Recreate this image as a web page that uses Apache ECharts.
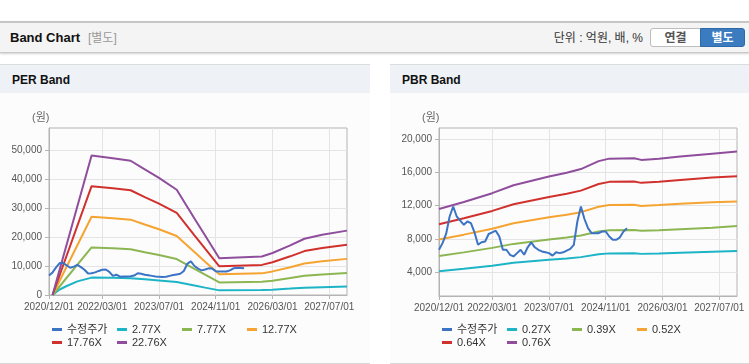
<!DOCTYPE html>
<html><head><meta charset="utf-8">
<script src="https://cdn.jsdelivr.net/npm/echarts@6/dist/echarts.min.js"></script>
<style>
html,body{margin:0;padding:0;width:749px;height:364px;overflow:hidden;background:#fff;font-family:"Liberation Sans",Arial,"Noto Sans CJK KR",sans-serif;}
#hdr{position:absolute;left:0;top:21px;width:749px;height:29px;background:#f4f4f4;border-top:2px solid #c6c6c6;border-bottom:1px solid #c8c8c8;box-shadow:0 1px 2px rgba(0,0,0,0.18);}
#hdr .t{position:absolute;left:10px;top:6px;font-size:13px;font-weight:bold;color:#111;line-height:17px;}
#hdr .s{position:absolute;left:88px;top:7px;font-size:12px;color:#999;line-height:16px;}
#hdr .u{position:absolute;right:106px;top:7px;font-size:12px;color:#333;line-height:16px;}
.btn{position:absolute;top:5px;height:19px;line-height:19px;font-size:12px;font-weight:bold;text-align:center;box-sizing:border-box;}
#b1{left:650px;width:51px;background:#fff;border:1px solid #bdbdbd;border-radius:3px 0 0 3px;color:#555;}
#b2{left:700px;width:45px;background:#3b7bbf;border:1px solid #2f6aa8;border-radius:0 3px 3px 0;color:#fff;}
.panel{position:absolute;top:64px;height:298px;border-top:1px solid #dcdcdc;border-bottom:1px solid #d8d8d8;background:#fcfcfd;}
.ph{position:absolute;left:0;top:0;right:0;height:28px;background:#eef2f7;}
.ph span{position:absolute;left:12px;top:7px;font-size:12px;font-weight:bold;color:#111;line-height:16px;}
.chart{position:absolute;top:93px;height:270px;}
</style></head>
<body>
<div id="hdr"><span class="t">Band Chart</span><span class="s">[별도]</span><span class="u">단위 : 억원, 배, %</span><div class="btn" id="b1">연결</div><div class="btn" id="b2">별도</div></div>
<div class="panel" style="left:0;width:370px;"><div class="ph"><span>PER Band</span></div></div>
<div class="panel" style="left:390px;width:359px;"><div class="ph"><span>PBR Band</span></div></div>
<div id="c1" class="chart" style="left:0;width:370px;"></div>
<div id="c2" class="chart" style="left:390px;width:359px;"></div>
<script>
const categories = [
'2020/12/01',
'2021/01/01','2021/02/01','2021/03/01','2021/04/01','2021/05/01','2021/06/01','2021/07/01','2021/08/01','2021/09/01','2021/10/01','2021/11/01','2021/12/01',
'2022/01/01','2022/02/01','2022/03/01','2022/04/01','2022/05/01','2022/06/01','2022/07/01','2022/08/01','2022/09/01','2022/10/01','2022/11/01','2022/12/01',
'2023/01/01','2023/02/01','2023/03/01','2023/04/01','2023/05/01','2023/06/01','2023/07/01','2023/08/01','2023/09/01','2023/10/01','2023/11/01','2023/12/01',
'2024/01/01','2024/02/01','2024/03/01','2024/04/01','2024/05/01','2024/06/01','2024/07/01','2024/08/01','2024/09/01','2024/10/01','2024/11/01','2024/12/01',
'2025/01/01','2025/02/01','2025/03/01','2025/04/01','2025/05/01','2025/06/01','2025/07/01','2025/08/01','2025/09/01','2025/10/01','2025/11/01','2025/12/01',
'2026/01/01','2026/02/01','2026/03/01','2026/04/01','2026/05/01','2026/06/01','2026/07/01','2026/08/01','2026/09/01','2026/10/01','2026/11/01','2026/12/01',
'2027/01/01','2027/02/01','2027/03/01','2027/04/01','2027/05/01','2027/06/01','2027/07/01','2027/08/01','2027/09/01','2027/10/01','2027/11/01','2027/12/01'];
const tickLabels = ['2020/12/01','2022/03/01','2023/07/01','2024/11/01','2026/03/01','2027/07/01'];

// PER chart
const perPrice = [6700,7800,9500,11000,11000,10200,9400,9800,10400,9600,8700,7400,7500,7800,8300,8700,8800,8000,6600,7000,
  6300,6400,6400,6500,6700,7500,7300,7000,6800,6600,6400,6300,6200,6300,6600,6900,7100,7300,8300,10800,
  11600,10000,9100,8500,8800,9200,9100,8200,8100,8100,8100,8500,9200,9300,9300,9200];
const perBandDates = ['2021/01/01','2021/12/01','2022/06/01','2022/11/01','2023/03/01','2023/07/01','2023/12/01','2024/05/01','2024/08/01','2024/12/01','2025/12/01','2026/03/01','2026/08/01','2026/12/01','2027/05/01','2027/12/01'];
const per277Dates = ['2021/01/01','2021/03/01','2021/05/01','2021/08/01','2021/12/01','2022/06/01','2022/11/01','2023/03/01','2023/07/01','2023/12/01','2024/05/01','2024/08/01','2024/12/01','2025/12/01','2026/03/01','2026/08/01','2026/12/01','2027/05/01','2027/12/01'];
const per277 = [0,1900,3100,4700,6000,5950,5800,5400,5000,4500,3300,2550,1600,1700,1850,2200,2500,2700,2950];
const per777 = [0,16420,16110,15810,14780,13790,12390,9010,7000,4340,4540,4950,5840,6620,7100,7580];
const per1277 = [0,26990,26480,25980,24300,22670,20370,14810,11500,7130,7460,8140,9590,10890,11670,12460];
const per1776 = [0,37530,36830,36130,33790,31520,28320,20600,16000,9910,10380,11310,13340,15140,16230,17320];
const per2276 = [0,48100,47200,46300,43300,40400,36300,26400,20500,12700,13300,14500,17100,19400,20800,22200];
const perNames = ['수정주가','2.77X','7.77X','12.77X','17.76X','22.76X'];
const perTicks = [0,10000,20000,30000,40000,50000];

// PBR chart
const pbrPrice = [6700,7500,8600,10700,11900,10700,10200,9700,10100,9900,8800,7300,7600,7700,8600,8800,9000,8300,6700,6700,
  6100,5900,6300,6700,6100,7000,7600,7000,6700,6500,6400,6300,6000,6400,6300,6400,6600,6800,7300,10100,
  11900,10400,9300,8700,8700,8700,8900,8900,8300,7900,7900,8200,8900,9300];
const pbrBandDates = ['2020/12/01','2021/07/01','2022/03/01','2022/09/01','2023/07/01','2023/12/01','2024/04/01','2024/09/01','2024/12/01','2025/07/01','2025/09/01','2026/02/01','2026/08/01','2027/05/01','2027/12/01'];
const pbr027 = [4120,4420,4790,5130,5500,5660,5820,6160,6270,6280,6210,6270,6350,6480,6570];
const pbr039 = [5950,6390,6930,7410,7950,8180,8410,8900,9050,9080,8980,9050,9180,9360,9550];
const pbr052 = [7930,8520,9230,9880,10600,10910,11220,11870,12070,12110,11970,12070,12240,12400,12500];
const pbr064 = [9770,10480,11370,12170,13050,13430,13810,14610,14860,14900,14740,14860,15070,15370,15520];
const pbr076 = [11600,12450,13500,14450,15500,15950,16400,17350,17650,17700,17500,17650,17900,18250,18500];
const pbrNames = ['수정주가','0.27X','0.39X','0.52X','0.64X','0.76X'];
const pbrTicks = [4000,8000,12000,16000,20000];

const colors = ['#3b73c5','#1db4c6','#8cb652','#f5a431','#d0312d','#8f4e9c'];
const FONT = '"Liberation Sans", Arial, "Noto Sans CJK KR", sans-serif';

function pairs(dates, vals){ return dates.map((d,i)=>[d, vals[i]]); }
function fmt(v){ return String(v).replace(/\B(?=(\d{3})+(?!\d))/g, ','); }
const showIdx = tickLabels.map(t => categories.indexOf(t));
const showFn = (i) => showIdx.indexOf(i) >= 0;

function build(names, priceArr, bandSets, yMin, yMax, yTicks, gridH){
  const series = [];
  series.push({name:names[0], type:'line', data:priceArr, showSymbol:false, symbol:'none', z:5,
    lineStyle:{width:2,color:colors[0]}, itemStyle:{color:colors[0]}});
  bandSets.forEach((b,k)=>{
    series.push({name:names[k+1], type:'line', data:pairs(b[0], b[1]), showSymbol:false, symbol:'none', connectNulls:true, z:2,
      lineStyle:{width:2,color:colors[k+1]}, itemStyle:{color:colors[k+1]}});
  });
  const legendPos = [[52,231],[117,231],[182,231],[247,231],[52,244],[117,244]];
  const legends = names.map((n,i)=>({
    data:[n], left:legendPos[i][0], top:legendPos[i][1], padding:0, itemGap:0,
    icon:'rect', itemWidth:10, itemHeight:3, selectedMode:false,
    textStyle:{fontSize:11, color:'#333', fontFamily:FONT}
  }));
  return {
    animation:false,
    color:colors,
    textStyle:{fontFamily:FONT},
    grid:{left:49, top:35, width:298, height:gridH, show:true, borderColor:'#b4b4b4', borderWidth:1, backgroundColor:'transparent', outerBoundsMode:'none'},
    legend:legends,
    graphic:[{type:'text', left:32, top:19, style:{text:'(원)', fontSize:11, fill:'#666', fontFamily:FONT}}],
    xAxis:{type:'category', data:categories, boundaryGap:false,
      axisLine:{show:true, lineStyle:{color:'#b4b4b4'}},
      axisTick:{show:true, interval:showFn, length:4, lineStyle:{color:'#b4b4b4'}},
      axisLabel:{interval:showFn, color:'#555', fontSize:10, margin:7, fontFamily:FONT, hideOverlap:false},
      splitLine:{show:true, interval:showFn, lineStyle:{color:'#e4e4e4'}}},
    yAxis:{type:'value', min:yMin, max:yMax, 
      axisLine:{show:true, lineStyle:{color:'#b4b4b4'}},
      axisTick:{show:true, length:4, customValues:yTicks, lineStyle:{color:'#b4b4b4'}},
      axisLabel:{customValues:yTicks, color:'#555', fontSize:10, margin:7, fontFamily:FONT, formatter:(v)=>fmt(v)},
      splitLine:{show:true, lineStyle:{color:'#e4e4e4'}}},
    series:series
  };
}

const c1 = echarts.init(document.getElementById('c1'), null, {renderer:'canvas'});
c1.setOption(build(perNames, perPrice, [[per277Dates,per277],[perBandDates,per777],[perBandDates,per1277],[perBandDates,per1776],[perBandDates,per2276]], 0, 57600, perTicks, 167));
const c2 = echarts.init(document.getElementById('c2'), null, {renderer:'canvas'});
c2.setOption(build(pbrNames, pbrPrice, [[pbrBandDates,pbr027],[pbrBandDates,pbr039],[pbrBandDates,pbr052],[pbrBandDates,pbr064],[pbrBandDates,pbr076]], 1150, 21330, pbrTicks, 168));
</script>
</body></html>
